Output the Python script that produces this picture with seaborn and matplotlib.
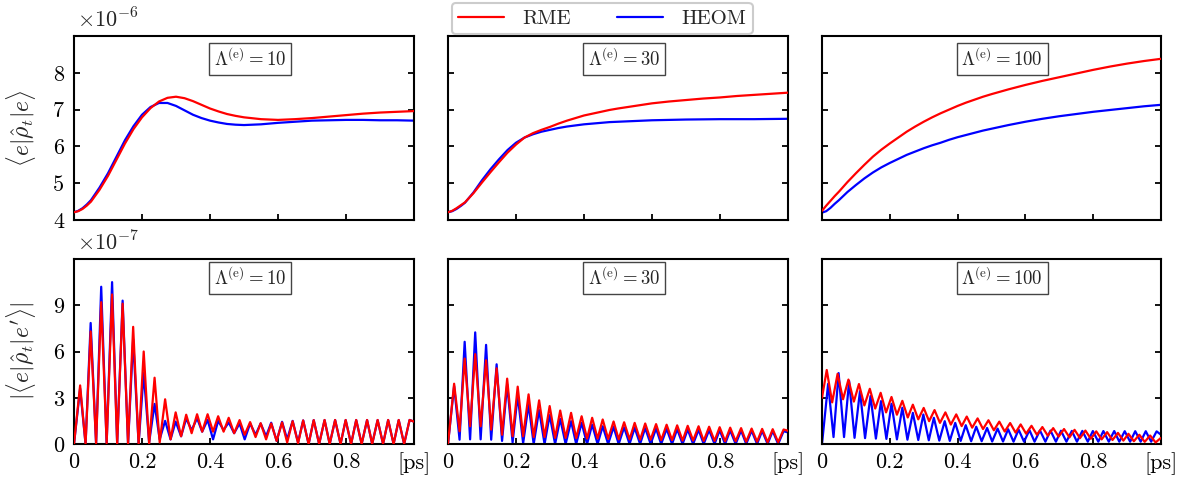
import matplotlib
matplotlib.use("Agg")
import matplotlib.pyplot as plt
from matplotlib.lines import Line2D
import seaborn as sns

# ---------------- data ----------------
# population <e|rho_t|e>, units of 1e-6
t_pop = [0.0, 0.0125, 0.025, 0.0375, 0.05, 0.075, 0.1, 0.125, 0.15, 0.175, 0.2, 0.225,
         0.25, 0.275, 0.3, 0.325, 0.35, 0.375, 0.4, 0.425, 0.45, 0.475, 0.5, 0.55,
         0.6, 0.65, 0.7, 0.75, 0.8, 0.85, 0.9, 0.95, 1.0]

pop_rme_10 = [4.21, 4.24, 4.30, 4.39, 4.50, 4.82, 5.20, 5.64, 6.08, 6.47, 6.79, 7.04,
              7.22, 7.32, 7.35, 7.31, 7.23, 7.13, 7.03, 6.95, 6.88, 6.83, 6.79, 6.74,
              6.72, 6.74, 6.77, 6.81, 6.85, 6.89, 6.92, 6.94, 6.96]
pop_heom_10 = [4.21, 4.25, 4.32, 4.42, 4.54, 4.88, 5.27, 5.72, 6.17, 6.55, 6.86, 7.07,
               7.18, 7.18, 7.10, 6.98, 6.86, 6.77, 6.70, 6.65, 6.61, 6.59, 6.58, 6.60,
               6.64, 6.67, 6.70, 6.71, 6.72, 6.72, 6.71, 6.71, 6.70]

pop_rme_30 = [4.21, 4.25, 4.32, 4.40, 4.48, 4.73, 5.02, 5.30, 5.57, 5.83, 6.05, 6.24,
              6.36, 6.45, 6.53, 6.62, 6.70, 6.77, 6.84, 6.89, 6.94, 6.99, 7.03, 7.10,
              7.17, 7.22, 7.26, 7.30, 7.33, 7.37, 7.40, 7.43, 7.46]
pop_heom_30 = [4.21, 4.24, 4.30, 4.38, 4.47, 4.75, 5.08, 5.38, 5.65, 5.90, 6.10, 6.24,
               6.33, 6.40, 6.45, 6.50, 6.54, 6.57, 6.60, 6.62, 6.64, 6.66, 6.67, 6.69,
               6.71, 6.72, 6.73, 6.735, 6.74, 6.74, 6.74, 6.745, 6.75]

pop_rme_100 = [4.25, 4.39, 4.52, 4.65, 4.77, 5.03, 5.27, 5.50, 5.72, 5.91, 6.08, 6.24,
               6.40, 6.54, 6.67, 6.79, 6.90, 7.00, 7.10, 7.19, 7.27, 7.35, 7.42, 7.55,
               7.67, 7.78, 7.88, 7.98, 8.08, 8.17, 8.25, 8.32, 8.38]
pop_heom_100 = [4.20, 4.24, 4.33, 4.44, 4.54, 4.76, 4.95, 5.13, 5.29, 5.43, 5.55, 5.66,
                5.77, 5.86, 5.95, 6.03, 6.10, 6.18, 6.25, 6.31, 6.37, 6.43, 6.48, 6.58,
                6.67, 6.75, 6.82, 6.88, 6.94, 6.99, 7.04, 7.09, 7.13]

# coherence |<e|rho_t|e'>|, units of 1e-7, sampled at maxima / minima
t_coh = [0.000,
         0.018, 0.034, 0.049, 0.065, 0.080, 0.096, 0.112, 0.127, 0.143, 0.159,
         0.174, 0.190, 0.205, 0.221, 0.237, 0.252, 0.268, 0.284, 0.299, 0.315,
         0.330, 0.346, 0.362, 0.377, 0.393, 0.409, 0.424, 0.440, 0.455, 0.471,
         0.487, 0.502, 0.518, 0.534, 0.549, 0.565, 0.580, 0.596, 0.612, 0.627,
         0.643, 0.659, 0.674, 0.690, 0.705, 0.721, 0.737, 0.752, 0.768, 0.784,
         0.799, 0.815, 0.830, 0.846, 0.862, 0.877, 0.893, 0.909, 0.924, 0.940,
         0.955, 0.971, 0.987, 1.000]

coh_rme_10 = [0.0,
              3.8, 0.0, 7.3, 0.05, 9.2, 0.05, 9.7, 0.0, 9.1, 0.0,
              7.6, 0.0, 6.0, 0.0, 4.3, 0.1, 2.9, 0.3, 2.05, 0.5,
              1.9, 0.7, 1.93, 0.8, 1.93, 0.8, 1.8, 0.8, 1.7, 0.7,
              1.55, 0.6, 1.42, 0.45, 1.35, 0.3, 1.33, 0.2, 1.4, 0.1,
              1.48, 0.05, 1.53, 0.0, 1.55, 0.0, 1.56, 0.0, 1.56, 0.0,
              1.56, 0.0, 1.56, 0.0, 1.56, 0.0, 1.56, 0.0, 1.56, 0.0,
              1.56, 0.0, 1.56, 1.45]
coh_heom_10 = [0.0,
               3.6, 0.0, 7.85, 0.0, 10.2, 0.0, 10.5, 0.0, 9.3, 0.0,
               6.8, 0.0, 4.6, 0.1, 2.6, 0.3, 1.5, 0.3, 1.45, 0.5,
               1.65, 0.9, 1.67, 0.8, 1.56, 0.3, 1.5, 0.9, 1.4, 0.7,
               1.33, 0.3, 1.33, 0.6, 1.33, 0.5, 1.38, 0.2, 1.44, 0.3,
               1.5, 0.1, 1.53, 0.0, 1.55, 0.0, 1.55, 0.0, 1.55, 0.0,
               1.55, 0.0, 1.55, 0.0, 1.55, 0.0, 1.55, 0.0, 1.55, 0.0,
               1.55, 0.0, 1.56, 1.45]

coh_rme_30 = [0.0,
              3.91, 0.83, 5.54, 1.15, 5.83, 1.15, 5.43, 0.93, 4.91, 0.6,
              4.24, 0.5, 3.72, 0.5, 3.22, 0.45, 2.83, 0.45, 2.46, 0.4,
              2.17, 0.4, 2.02, 0.38, 1.80, 0.35, 1.70, 0.35, 1.59, 0.33,
              1.46, 0.3, 1.41, 0.3, 1.37, 0.28, 1.33, 0.28, 1.29, 0.25,
              1.25, 0.25, 1.21, 0.22, 1.18, 0.22, 1.15, 0.2, 1.12, 0.2,
              1.09, 0.18, 1.06, 0.18, 1.03, 0.15, 1.0, 0.15, 0.98, 0.12,
              0.96, 0.12, 0.94, 0.86]
coh_heom_30 = [0.0,
               3.76, 0.28, 6.63, 0.3, 7.24, 0.3, 6.43, 0.28, 5.17, 0.2,
               3.87, 0.1, 3.17, 0.05, 2.57, 0.0, 2.20, 0.0, 1.87, 0.0,
               1.63, 0.0, 1.48, 0.0, 1.37, 0.0, 1.26, 0.0, 1.15, 0.0,
               1.10, 0.0, 1.08, 0.0, 1.05, 0.0, 1.03, 0.0, 1.0, 0.0,
               0.98, 0.0, 0.96, 0.0, 0.94, 0.0, 0.92, 0.0, 0.90, 0.0,
               0.89, 0.0, 0.88, 0.0, 0.87, 0.0, 0.86, 0.0, 0.85, 0.0,
               0.84, 0.0, 0.83, 0.75]

coh_heom_100 = [0.0,
                3.9, 0.45, 4.6, 0.45, 4.09, 0.4, 3.43, 0.38, 3.11, 0.35,
                2.78, 0.33, 2.61, 0.3, 2.35, 0.28, 2.02, 0.26, 1.91, 0.24,
                1.70, 0.22, 1.48, 0.2, 1.37, 0.2, 1.22, 0.18, 1.12, 0.18,
                1.04, 0.16, 1.0, 0.16, 0.96, 0.15, 0.93, 0.15, 0.90, 0.15,
                0.88, 0.15, 0.87, 0.15, 0.86, 0.15, 0.85, 0.15, 0.85, 0.15,
                0.84, 0.15, 0.84, 0.15, 0.84, 0.15, 0.83, 0.15, 0.83, 0.15,
                0.83, 0.15, 0.82, 0.6]

# RME at Lambda=100 oscillates with a slightly longer period
t_coh_rme_100 = [0.000,
                 0.014, 0.030, 0.046, 0.062, 0.078, 0.094, 0.109, 0.125, 0.141, 0.157,
                 0.173, 0.189, 0.205, 0.221, 0.237, 0.253, 0.268, 0.284, 0.300, 0.316,
                 0.332, 0.348, 0.364, 0.380, 0.396, 0.412, 0.427, 0.443, 0.459, 0.475,
                 0.491, 0.507, 0.523, 0.539, 0.555, 0.571, 0.586, 0.602, 0.618, 0.634,
                 0.650, 0.666, 0.682, 0.698, 0.714, 0.730, 0.745, 0.761, 0.777, 0.793,
                 0.809, 0.825, 0.841, 0.857, 0.873, 0.889, 0.904, 0.920, 0.936, 0.952,
                 0.968, 0.984, 1.000]
coh_rme_100 = [3.0,
               4.8, 2.7, 4.55, 2.9, 4.18, 2.75, 3.89, 2.5, 3.58, 2.3,
               3.32, 2.05, 3.05, 1.9, 2.8, 1.72, 2.55, 1.6, 2.34, 1.48,
               2.2, 1.37, 2.05, 1.26, 1.92, 1.16, 1.78, 1.06, 1.66, 0.97,
               1.54, 0.89, 1.45, 0.81, 1.36, 0.74, 1.27, 0.67, 1.18, 0.6,
               1.10, 0.54, 1.03, 0.48, 0.97, 0.43, 0.92, 0.38, 0.87, 0.34,
               0.82, 0.3, 0.77, 0.26, 0.72, 0.22, 0.66, 0.18, 0.60, 0.14,
               0.55, 0.1, 0.4]

lambdas = [10, 30, 100]
x_ticks = [0.0, 0.2, 0.4, 0.6, 0.8, 1.0]
x_ticklabels = ["0", "0.2", "0.4", "0.6", "0.8", "[ps]"]
pop_ticks = [4, 5, 6, 7, 8]
coh_ticks = [0, 3, 6, 9]

# ---------------- style ----------------
sns.set_theme(style="ticks")
plt.rcParams.update({
    "font.family": "serif",
    "font.serif": ["cmr10"],
    "mathtext.fontset": "cm",
    "axes.unicode_minus": False,
    "axes.linewidth": 1.5,
    "xtick.direction": "in",
    "ytick.direction": "in",
    "xtick.major.size": 4.5,
    "ytick.major.size": 4.5,
    "xtick.major.width": 1.3,
    "ytick.major.width": 1.3,
    "xtick.color": "black",
    "ytick.color": "black",
    "axes.edgecolor": "black",
    "lines.solid_joinstyle": "round",
    "lines.solid_capstyle": "round",
})

RED = "#ff0000"
BLUE = "#0000ff"
LW = 1.6
FS = 16

fig = plt.figure(figsize=(11.86, 4.84), dpi=100)

W, H = 1186.0, 484.0
lefts = [74, 448, 822]
widths = [340, 340, 339]
rows = [(36, 220), (259, 444)]

pop_data = [(pop_rme_10, pop_heom_10), (pop_rme_30, pop_heom_30), (pop_rme_100, pop_heom_100)]
coh_data = [((t_coh, coh_rme_10), (t_coh, coh_heom_10)),
            ((t_coh, coh_rme_30), (t_coh, coh_heom_30)),
            ((t_coh_rme_100, coh_rme_100), (t_coh, coh_heom_100))]

axes = {}
for r, (top, bot) in enumerate(rows):
    for c in range(3):
        ax = fig.add_axes([lefts[c] / W, 1 - bot / H, widths[c] / W, (bot - top) / H])
        axes[(r, c)] = ax

for c in range(3):
    # top row: populations
    ax = axes[(0, c)]
    rme, heom = pop_data[c]
    sns.lineplot(x=t_pop, y=heom, ax=ax, color=BLUE, lw=LW, zorder=2)
    sns.lineplot(x=t_pop, y=rme, ax=ax, color=RED, lw=LW, zorder=3)
    ax.set_ylim(4, 9)
    ax.set_yticks(pop_ticks)

    # bottom row: coherences
    ax = axes[(1, c)]
    (tr, vr), (tb, vb) = coh_data[c]
    sns.lineplot(x=tb, y=vb, ax=ax, color=BLUE, lw=LW, zorder=2)
    sns.lineplot(x=tr, y=vr, ax=ax, color=RED, lw=LW, zorder=3)
    ax.set_ylim(0, 12)
    ax.set_yticks(coh_ticks)

for (r, c), ax in axes.items():
    ax.set_xlim(0, 1)
    ax.set_xticks(x_ticks)
    if r == 1:
        ax.set_xticklabels(x_ticklabels)
    else:
        ax.set_xticklabels([])
    if c != 0:
        ax.set_yticklabels([])
    ax.set_xlabel("")
    ax.set_ylabel("")
    ax.tick_params(axis="both", which="both", left=True, right=True, bottom=True, top=False,
                   labelsize=FS, pad=7)
    ax.tick_params(axis="x", pad=6)
    for s in ax.spines.values():
        s.set_visible(True)
        s.set_linewidth(1.5)
    y_box = 0.875 if r == 0 else 0.897
    ax.text(0.411, y_box, r"$\Lambda^{(\mathrm{e})} = %d$" % lambdas[c], transform=ax.transAxes,
            ha="left", va="center", fontsize=13.5, zorder=5,
            bbox=dict(boxstyle="square,pad=0.25", fc="white", ec="#444444", lw=1.0))

axes[(0, 0)].text(0.008, 1.025, r"$\times10^{-6}$", transform=axes[(0, 0)].transAxes,
                  ha="left", va="bottom", fontsize=FS)
axes[(1, 0)].text(0.008, 1.025, r"$\times10^{-7}$", transform=axes[(1, 0)].transAxes,
                  ha="left", va="bottom", fontsize=FS)

axes[(0, 0)].set_ylabel(r"$\langle e|\hat{\rho}_t|e\rangle$", fontsize=17)
axes[(1, 0)].set_ylabel(r"$|\langle e|\hat{\rho}_t|e^{\prime}\rangle|$", fontsize=17)
axes[(0, 0)].yaxis.set_label_coords(-0.105, 0.5)
axes[(1, 0)].yaxis.set_label_coords(-0.105, 0.5)

handles = [Line2D([], [], color=RED, lw=LW), Line2D([], [], color=BLUE, lw=LW)]
leg = fig.legend(handles, ["RME", "HEOM"], loc="upper center", bbox_to_anchor=(602 / W, 1 - 3 / H),
                 ncol=2, fontsize=15, frameon=True, fancybox=True, framealpha=1.0,
                 edgecolor="#cccccc", handlelength=2.2, handletextpad=0.9, columnspacing=2.2,
                 borderpad=0.3, borderaxespad=0.0)
leg.get_frame().set_linewidth(1.5)
leg.set_zorder(10)

fig.savefig("out.png", dpi=100)
